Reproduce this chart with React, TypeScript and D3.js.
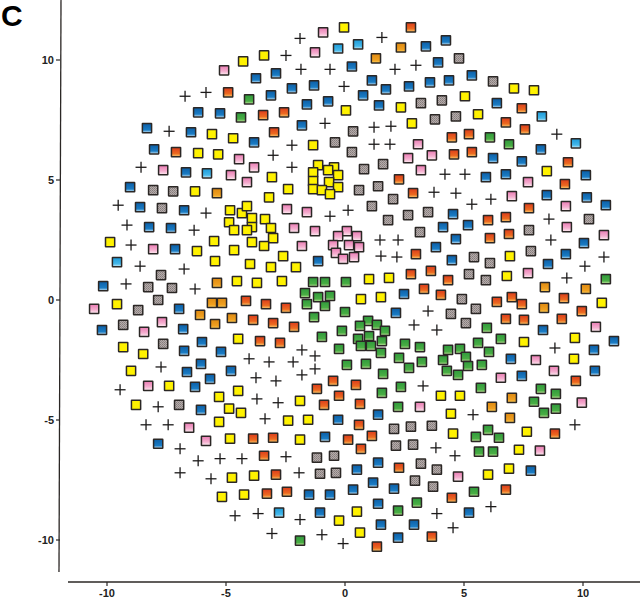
import * as d3 from 'd3'

type Pt = [number, number]

const xTicks = [-10, -5, 0, 5, 10]
const yTicks = [-10, -5, 0, 5, 10]

const blue: Pt[] = [[-3.74,9.24],[-6.17,7.82],[-5.25,7.78],[-8.32,7.16],[-6.47,6.99],[-3.82,6.57],[-8.02,6.28],[-6.68,5.32],[-9.03,4.7],[3.4,10.57],[4.24,10.82],[3.91,9.9],[0.29,9.73],[-2.9,9.44],[1.13,9.15],[3.57,9.07],[4.37,9.15],[-1.3,8.94],[2.69,8.9],[-2.23,8.82],[1.72,8.78],[-3.11,8.53],[0.76,8.53],[-0.71,8.28],[-1.6,8.15],[1.43,8.11],[-1.81,7.28],[5.33,9.36],[6.38,8.2],[8.23,6.28],[6.22,5.91],[7.43,5.78],[5.92,5.12],[6.76,5.24],[10.12,5.2],[8.48,4.37],[10.16,4.28],[-8.61,3.87],[-6.76,3.74],[-8.23,3.04],[-7.31,3],[-7.14,2.12],[-10.16,0.58],[-6.97,-0.37],[-10.21,-1.25],[-6.8,-1.21],[-6.01,-1.75],[-6.76,-2.12],[-5.21,-2.16],[-6.05,-2.66],[-6.64,-3],[-4.79,-2.95],[-5.67,-3.29],[-6.3,-3.62],[4.12,3.04],[3.82,2.2],[4.54,3.58],[4.49,1.66],[-1.13,1.62],[2.48,0.25],[2.14,-0.54],[10.96,3.95],[5.17,3.12],[4.66,2.54],[10.04,2.37],[9.28,1.91],[8.53,1.5],[8.32,-1.25],[11.3,-1.71],[10.46,-2.08],[6.97,-2.45],[10.5,-2.95],[7.43,-3.16],[-6.05,-4.58],[-7.85,-5.99],[-0.29,-4.99],[1.39,-4.78],[-0.84,-5.7],[1.39,-6.78],[0.5,-7.07],[1.18,-7.61],[-1.51,-8.11],[-0.63,-8.11],[0.34,-7.9],[2.06,-7.86],[-1.05,-8.86],[1.39,-8.49],[1.51,-9.36],[2.9,-9.36],[2.23,-9.9],[7.81,-7.11],[5.21,-8.86]]

const lightBlue: Pt[] = [[-5.8,5.28],[0.55,10.65],[-0.29,10.48],[8.27,7.65],[9.7,6.53],[-9.58,1.58],[-2.77,-8.86]]

const yellow: Pt[] = [[-4.28,9.94],[-5.59,6.91],[-4.7,6.74],[-6.17,6.12],[-5.33,6.07],[-6.3,4.53],[-0.04,11.36],[-3.4,10.19],[2.35,8.03],[0.04,7.9],[2.81,7.36],[-1.34,6.45],[-3.07,5.12],[-2.39,4.62],[-3.19,4.28],[-1.13,5.62],[-0.46,5.53],[-1.34,5.32],[-0.71,5.41],[-0.29,5.2],[-1.34,4.95],[-0.67,4.91],[-0.29,4.7],[-1.34,4.62],[-0.97,4.58],[-0.63,4.41],[7.1,8.82],[7.94,8.74],[5.04,8.49],[5.59,7.74],[8.48,5.37],[-4.83,3.74],[-4.33,3.62],[-4.12,3.91],[-3.91,3.41],[-4.87,3.24],[-3.91,3.04],[-4.66,2.91],[-4.12,2.91],[-3.36,3.37],[-3.11,3],[-3.02,2.58],[-3.91,2.41],[-3.4,2.25],[-5.5,2.45],[-9.87,2.41],[-6.22,2.04],[-4.66,2.08],[-5.46,1.62],[-3.99,1.5],[-4.54,0.79],[-3.7,0.71],[-2.6,1.83],[-3.11,1.37],[-2.06,1.37],[-2.65,0.79],[1.01,0.87],[1.85,0.92],[0.67,0.04],[1.51,0.12],[-9.58,-0.17],[-4.49,-1.62],[-9.32,-1.96],[-8.48,-2.25],[-8.99,-2.95],[-7.39,-3.58],[-4.49,-3.79],[-5.29,-4.04],[-8.78,-4.37],[-4.87,-4.53],[-4.37,-4.7],[-5.29,-5.08],[-4.83,-5.78],[-4.75,-7.4],[-3.82,-7.32],[-5.17,-8.2],[-4.24,-8.11],[6.93,1.83],[6.8,1],[10.79,-0.12],[9.66,-1.58],[7.52,-1.75],[9.62,-2.45],[4.03,-3.99],[4.83,-3.99],[-1.89,-4.2],[-2.39,-5.03],[-1.55,-4.99],[4.45,-4.74],[4.54,-5.57],[-1.89,-5.82],[0.5,-8.82],[-0.25,-9.19],[0.63,-9.69],[7.64,-5.49],[7.31,-6.24],[6.89,-7.03],[6.01,-7.28]]

const orange: Pt[] = [[-5.38,4.45],[2.35,10.52],[1.3,10.07],[-5.38,0.71],[-5.59,-0.12],[-5.17,-0.12],[-6.09,-0.62],[-4.75,-0.75],[-5.46,-1],[8.4,0.54],[10.12,0.46],[8.36,-0.33],[7.01,-4.08],[6.17,-4.45],[6.93,-4.91]]

const red: Pt[] = [[-4.91,8.65],[-7.1,6.16],[2.77,11.36],[-3.44,7.7],[-2.56,7.82],[-2.98,6.99],[4.49,6.78],[2.27,5.03],[2.86,4.45],[7.43,7.99],[6.76,7.4],[7.56,7.11],[5.21,6.91],[4.58,6.07],[5.33,6.16],[9.37,5.74],[9.24,4.83],[-4.16,-0.04],[-3.86,-0.83],[-3.57,-1.71],[2.98,1.91],[2.77,1.08],[3.61,1.21],[4.33,0.83],[3.32,0.46],[4.03,0.21],[-3.32,-0.17],[-2.48,-0.33],[-3.02,-0.96],[-2.14,-1.12],[-2.73,-1.79],[-0.5,-3.37],[0.46,-3.54],[-1.18,-3.7],[7.73,3.83],[6.01,3.33],[6.76,3.45],[6.09,2.58],[6.89,2.75],[6.38,-0.08],[7.01,0.12],[7.43,-0.17],[9.2,0.08],[9.95,-0.46],[6.76,-0.79],[7.52,-0.83],[9.11,-0.79],[9.7,-3.37],[-0.25,-3.99],[-0.88,-4.37],[0.63,-4.33],[0.59,-5.2],[-3.86,-5.78],[-3.02,-5.74],[0.13,-5.82],[1.13,-5.66],[0.67,-6.2],[-3.4,-6.49],[2.27,-6.99],[-2.9,-7.28],[-3.28,-8.07],[-2.44,-7.99],[4.49,-8.24],[3.65,-9.86],[1.34,-10.28],[8.82,-5.57],[6.76,-7.9]]

const green: Pt[] = [[-4.03,8.36],[-4.37,7.61],[6.09,6.78],[6.89,6.49],[10.96,0.87],[-1.34,0.75],[-0.84,0.75],[0.04,0.75],[-1.68,0.29],[-0.63,0.17],[-1.13,0.12],[-1.6,-0.17],[-0.84,-0.25],[0,-0.5],[-1.3,-0.71],[0.97,-0.87],[1.34,-1.04],[0.63,-1.08],[1.68,-1.29],[1.01,-1.5],[0.55,-1.62],[1.55,-1.71],[0.67,-1.91],[1.09,-1.91],[1.51,-2.2],[-0.13,-1.29],[-0.97,-1.54],[2.52,-1.83],[3.15,-1.96],[4.33,-2.08],[-0.25,-2.04],[2.27,-2.41],[3.23,-2.58],[4.12,-2.5],[0.08,-2.7],[0.88,-2.66],[2.69,-2.83],[4.28,-2.95],[1.6,-3.08],[2.35,-3.62],[1.55,-3.87],[5.96,-1.16],[5.59,-1.79],[6.55,-1.62],[4.83,-2.04],[6.05,-2.16],[5.08,-2.37],[5.17,-2.75],[5.75,-2.7],[4.75,-3.12],[5.71,-3.66],[8.23,-3.7],[8.86,-3.91],[2.23,-4.45],[7.94,-4.24],[8.86,-4.53],[8.36,-4.7],[6.01,-5.41],[5.5,-5.7],[6.47,-5.74],[5.63,-6.32],[6.22,-6.32],[2.23,-8.78],[3.02,-8.44],[5.42,-7.99],[-1.89,-10.03]]

const pink: Pt[] = [[-5.08,9.57],[-4.45,5.87],[-3.82,5.53],[-7.64,5.41],[-4.79,5.2],[-4.12,4.91],[-0.92,11.15],[-1.26,10.32],[3.07,6.49],[3.65,6.03],[2.65,5.91],[3.19,5.41],[7.69,4.91],[7.01,4.33],[-8.06,2.12],[-10.54,-0.37],[-7.69,-0.92],[-8.44,-1.33],[-8.27,-3.58],[-2.44,3.79],[-1.6,3.66],[-2.14,3],[-1.26,2.87],[-1.81,2.25],[0.08,2.87],[-0.29,2.66],[0.5,2.66],[0.17,2.29],[-0.5,2.29],[0.59,2.2],[-0.38,1.96],[0.38,1.79],[-0.08,1.71],[9.28,3.91],[9.32,3.04],[10.88,2.7],[7.69,1.12],[10.54,-1.12],[8.02,-2.5],[8.78,-2.95],[6.55,-3.24],[-6.55,-5.32],[-5.84,-5.87],[3.15,-4.45],[9.95,-4.28],[8.19,-6.28],[4.75,-7.36]]

const gray: Pt[] = [[-8.06,4.58],[-7.22,4.53],[4.07,8.32],[3.19,8.2],[3.78,7.53],[0.34,7.03],[-0.42,6.57],[0.29,6.16],[1.6,5.66],[0.8,5.45],[1.39,4.74],[0.59,4.58],[2.02,4.2],[4.79,10.07],[6.22,9.11],[4.66,7.65],[-7.69,3.83],[-7.73,1.04],[-8.27,0.54],[-7.27,0.5],[-7.85,0],[-8.69,-0.42],[-9.32,-1.04],[-7.64,-1.83],[1.13,3.91],[1.81,3.33],[2.65,3.54],[3.49,3.66],[3.15,2.83],[4.45,-0.58],[10.25,3.37],[7.73,2.91],[7.81,2.04],[5.42,1.79],[6.09,1.54],[5.21,1.08],[5.92,0.83],[4.91,0.04],[5.5,-0.37],[5.08,-0.96],[-6.97,-4.37],[2.06,-5.37],[2.77,-5.28],[3.65,-5.24],[2.14,-6.07],[2.86,-6.03],[-1.18,-6.57],[-0.46,-6.49],[3.19,-6.82],[3.86,-7.07],[-1.05,-7.24],[-0.38,-7.2],[2.94,-7.53],[3.7,-7.78]]

const plus: Pt[] = [[-6.72,8.49],[-5.84,8.65],[-7.39,7.03],[-8.57,5.53],[-1.89,10.9],[1.55,10.94],[-2.48,10.19],[2.98,9.78],[-1.85,9.61],[-0.63,9.61],[2.1,9.61],[-0.04,8.9],[-0.84,7.36],[1.22,7.2],[1.93,7.24],[-2.23,6.45],[1.22,6.49],[1.89,6.49],[-3.02,6.03],[-2.23,5.53],[4.2,5.24],[3.74,4.49],[8.9,6.91],[5.04,5.24],[4.66,4.45],[6.13,4.2],[-9.53,3.95],[-5.84,3.62],[-9.16,3.12],[-6.34,2.91],[-8.99,2.29],[-8.61,1.41],[-6.76,1.29],[-9.2,0.67],[-6.3,0.46],[-4.03,-2.45],[-7.73,-2.79],[-3.74,-3.24],[-9.45,-3.74],[-0.63,3.49],[0.13,3.74],[1.47,2.5],[2.23,2.5],[1.51,1.83],[2.18,1.79],[3.49,-0.46],[2.9,-1.04],[3.86,-1.25],[-1.81,-2.08],[-1.26,-2.33],[-3.19,-2.58],[-2.18,-2.58],[-1.26,-2.87],[-1.81,-3.12],[-2.9,-3.37],[3.28,-3.58],[5.33,3.99],[8.57,3.37],[8.65,2.5],[10.88,1.79],[10.08,1.41],[9.32,0.92],[8.82,-2],[-7.85,-4.45],[-8.36,-5.2],[-7.43,-5.2],[-6.93,-6.2],[-6.17,-6.7],[-5.25,-6.61],[-4.33,-6.61],[-6.93,-7.2],[-5.63,-7.45],[-4.62,-8.99],[-3.65,-8.9],[-2.81,-4.28],[-3.7,-4.12],[-3.36,-4.95],[-2.48,-6.53],[-1.93,-7.2],[3.82,-6.16],[3.86,-8.9],[-1.89,-9.15],[-3.07,-9.73],[-0.97,-9.78],[-0.08,-10.15],[5.38,-4.78],[9.66,-5.2],[4.62,-6.49],[6.13,-8.61],[4.54,-9.49]]

const squareSeries: { id: string; points: Pt[]; fill: string }[] = [
  { id: 'blue', points: blue, fill: 'url(#g-blue)' },
  { id: 'lightBlue', points: lightBlue, fill: 'url(#g-light)' },
  { id: 'orange', points: orange, fill: 'url(#g-orange)' },
  { id: 'red', points: red, fill: 'url(#g-red)' },
  { id: 'green', points: green, fill: 'url(#g-green)' },
  { id: 'pink', points: pink, fill: 'url(#g-pink)' },
  { id: 'gray', points: gray, fill: 'url(#p-gray)' },
  { id: 'yellow', points: yellow, fill: '#fff200' },
]

const gradients: { id: string; stops: [string, string][] }[] = [
  { id: 'g-blue', stops: [['0%', '#0c5ea6'], ['70%', '#1a7cc4'], ['100%', '#d4ecf8']] },
  { id: 'g-light', stops: [['0%', '#1c9ad8'], ['70%', '#45b8ea'], ['100%', '#d4f0fa']] },
  { id: 'g-orange', stops: [['0%', '#de8a12'], ['70%', '#f0a020'], ['100%', '#fad060']] },
  { id: 'g-red', stops: [['0%', '#dc3c1c'], ['65%', '#ec6a20'], ['100%', '#fbd070']] },
  { id: 'g-green', stops: [['0%', '#2f9a3c'], ['70%', '#4aae44'], ['100%', '#cde8a4']] },
  { id: 'g-pink', stops: [['0%', '#ea7cb4'], ['60%', '#f5aecf'], ['100%', '#fdeef2']] },
]

const x = d3.scaleLinear().domain([-10, 10]).range([107, 583])
const y = d3.scaleLinear().domain([-10, 10]).range([540, 60])

const ink = '#2b2725'
const SIZE = 9.2

export default function App() {
  return (
    <svg
      width={640}
      height={598}
      viewBox="0 0 640 598"
      style={{ position: 'fixed', left: 0, top: 0, background: '#fff' }}
      fontFamily="'Liberation Sans', Arial, sans-serif"
    >
      <defs>
        {gradients.map(g => (
          <linearGradient key={g.id} id={g.id} x1="0" y1="0" x2="0" y2="1">
            {g.stops.map(([offset, color]) => (
              <stop key={offset} offset={offset} stopColor={color} />
            ))}
          </linearGradient>
        ))}
        <pattern id="p-gray" width="2" height="2" patternUnits="userSpaceOnUse">
          <rect width="2" height="2" fill="#b5acaa" />
          <rect width="1" height="1" fill="#857c7c" />
          <rect x="1" y="1" width="1" height="1" fill="#938a8a" />
        </pattern>
      </defs>

      <text x={1} y={26} fontSize={30} fontWeight="bold" fill="#000">C</text>

      {/* y axis */}
      <line x1={61} y1={0} x2={59} y2={572} stroke={ink} strokeWidth={1.3} />
      {yTicks.map(t => (
        <g key={t}>
          <line x1={56} x2={60} y1={y(t)} y2={y(t)} stroke={ink} strokeWidth={1.2} />
          <text x={54} y={y(t) + 4} fontSize={11} fontWeight="bold" textAnchor="end" fill="#222">{t}</text>
        </g>
      ))}

      {/* x axis */}
      <line x1={68} y1={582} x2={640} y2={582} stroke={ink} strokeWidth={1.3} />
      {xTicks.map(t => (
        <g key={t}>
          <line x1={x(t)} x2={x(t)} y1={582} y2={586} stroke={ink} strokeWidth={1.2} />
          <text x={x(t)} y={597} fontSize={11} fontWeight="bold" textAnchor="middle" fill="#222">{t}</text>
        </g>
      ))}

      {squareSeries.map(s => (
        <g key={s.id}>
          {s.points.map(([px, py], i) => (
            <rect
              key={i}
              x={x(px) - SIZE / 2}
              y={y(py) - SIZE / 2}
              width={SIZE}
              height={SIZE}
              rx={0.3}
              fill={s.fill}
              stroke={ink}
              strokeWidth={1.5}
            />
          ))}
        </g>
      ))}

      <g stroke="#1c1a1a" strokeWidth={1.3}>
        {plus.map(([px, py], i) => (
          <g key={i}>
            <line x1={x(px) - 5.5} x2={x(px) + 5.5} y1={y(py)} y2={y(py)} />
            <line x1={x(px)} x2={x(px)} y1={y(py) - 5.5} y2={y(py) + 5.5} />
          </g>
        ))}
      </g>
    </svg>
  )
}
